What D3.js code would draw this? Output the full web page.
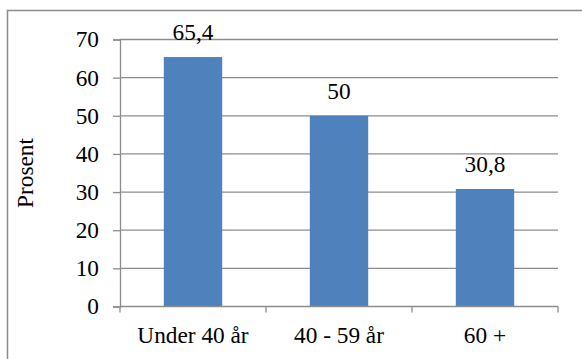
<!DOCTYPE html>
<html>
<head>
<meta charset="utf-8">
<script src="https://cdn.jsdelivr.net/npm/d3@7"></script>
<style>
  html, body { margin: 0; padding: 0; background: #fff; }
  svg { display: block; }
  svg text { font-family: "Liberation Serif", "Times New Roman", "DejaVu Serif", serif; fill: #000; }
</style>
</head>
<body>
<script>
// Andel (prosent) etter aldersgruppe
const categories = ["Under 40 år", "40 - 59 år", "60 +"];
const values = [65.4, 50, 30.8];
const valueLabels = ["65,4", "50", "30,8"];
const yTicks = [0, 10, 20, 30, 40, 50, 60, 70];
const yTitle = "Prosent";

const W = 582, H = 359;
const plot = { left: 120, right: 558, top: 39.5, bottom: 306.5 };
const FONT = '"Liberation Serif", "Times New Roman", "DejaVu Serif", serif';
const FS = "23.3px";

const svg = d3.select("body").append("svg")
  .attr("width", W).attr("height", H);

// chart area frame
svg.append("rect")
  .attr("x", 7.5).attr("y", 10.5)
  .attr("width", W + 10).attr("height", H + 10)
  .attr("fill", "none")
  .attr("stroke", "#8a8a8a")
  .attr("stroke-width", 1.5);

const x = d3.scaleBand()
  .domain(categories)
  .range([plot.left, plot.right])
  .paddingInner(0.6)
  .paddingOuter(0.3);

const y = d3.scaleLinear()
  .domain([0, 70])
  .range([plot.bottom, plot.top]);

// horizontal gridlines
svg.append("g")
  .selectAll("line")
  .data(yTicks.filter(d => d > 0))
  .join("line")
  .attr("x1", plot.left).attr("x2", plot.right)
  .attr("y1", d => y(d)).attr("y2", d => y(d))
  .attr("stroke", "#8c8c8c")
  .attr("stroke-width", 1.3);

// y axis
const yAxis = svg.append("g")
  .attr("transform", `translate(${plot.left},0)`)
  .call(d3.axisLeft(y).tickValues(yTicks).tickSize(7).tickPadding(14).tickFormat(d3.format("d")));
yAxis.attr("font-family", FONT).attr("font-size", FS);
yAxis.select(".domain").attr("stroke", "#8c8c8c").attr("stroke-width", 1.3);
yAxis.selectAll(".tick line").attr("stroke", "#8c8c8c").attr("stroke-width", 1.3);
yAxis.selectAll(".tick text")
  .style("font-family", FONT)
  .style("font-size", FS)
  .attr("fill", "#000");

// bars
svg.append("g")
  .selectAll("rect")
  .data(values)
  .join("rect")
  .attr("x", (d, i) => x(categories[i]))
  .attr("width", x.bandwidth())
  .attr("y", d => y(d))
  .attr("height", d => y(0) - y(d))
  .attr("fill", "#4f81bd");

// value labels
svg.append("g")
  .selectAll("text")
  .data(values)
  .join("text")
  .attr("x", (d, i) => x(categories[i]) + x.bandwidth() / 2)
  .attr("y", d => y(d) - 17)
  .attr("text-anchor", "middle")
  .style("font-family", FONT)
  .style("font-size", FS)
  .text((d, i) => valueLabels[i]);

// x axis line with ticks at category boundaries
const step = x.step();
const boundaries = d3.range(categories.length + 1).map(i => plot.left + i * step);
const xg = svg.append("g");
xg.append("line")
  .attr("x1", plot.left).attr("x2", plot.right)
  .attr("y1", plot.bottom).attr("y2", plot.bottom)
  .attr("stroke", "#8c8c8c").attr("stroke-width", 1.3);
xg.selectAll("line.tick")
  .data(boundaries)
  .join("line")
  .attr("class", "tick")
  .attr("x1", d => d).attr("x2", d => d)
  .attr("y1", plot.bottom).attr("y2", plot.bottom + 6)
  .attr("stroke", "#8c8c8c").attr("stroke-width", 1.3);

xg.selectAll("text")
  .data(categories)
  .join("text")
  .attr("x", d => x(d) + x.bandwidth() / 2)
  .attr("y", 343)
  .attr("text-anchor", "middle")
  .style("font-family", FONT)
  .style("font-size", FS)
  .text(d => d);

// y axis title
svg.append("text")
  .attr("transform", `translate(33,173) rotate(-90)`)
  .attr("text-anchor", "middle")
  .style("font-family", FONT)
  .style("font-size", FS)
  .text(yTitle);
</script>
</body>
</html>
